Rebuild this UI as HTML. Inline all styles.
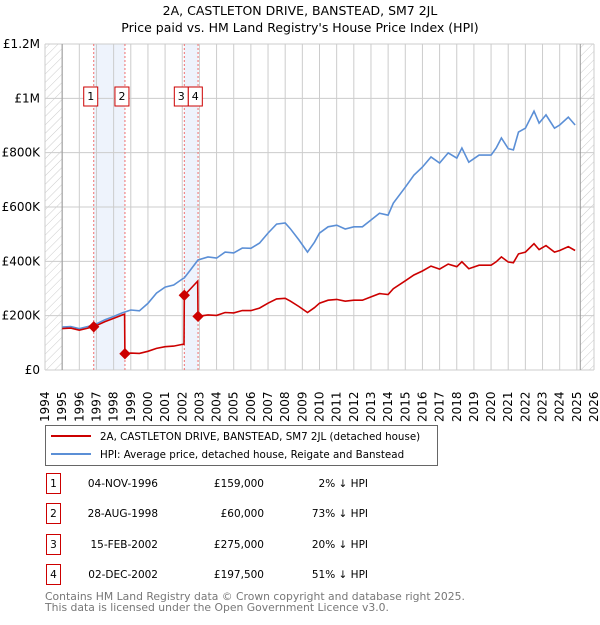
<!DOCTYPE html>
<html><head><meta charset="utf-8"><style>
body{margin:0;background:#fff;font-family:"Liberation Sans","DejaVu Sans",sans-serif;}
svg text{font-family:"DejaVu Sans","Liberation Sans",sans-serif;}
</style></head><body>
<svg id="chart" width="600" height="620" xmlns="http://www.w3.org/2000/svg">
<defs><pattern id="hatch" width="6" height="6" patternUnits="userSpaceOnUse" patternTransform="rotate(45)"><line x1="0" y1="0" x2="0" y2="6" stroke="#ccc" stroke-width="1"/></pattern></defs>
<text x="300" y="15" text-anchor="middle" font-size="12.5">2A, CASTLETON DRIVE, BANSTEAD, SM7 2JL</text>
<text x="300" y="32" text-anchor="middle" font-size="12.5">Price paid vs. HM Land Registry's House Price Index (HPI)</text>
<g id="grid"></g><g id="marks"></g>
<rect x="45.5" y="425.5" width="392" height="40" fill="#fff" stroke="#666"/>
<line x1="51" y1="436" x2="91" y2="436" stroke="#cc0000" stroke-width="2"/>
<text x="100" y="440" font-size="10.3">2A, CASTLETON DRIVE, BANSTEAD, SM7 2JL (detached house)</text>
<line x1="51" y1="454" x2="91" y2="454" stroke="#5b8fd6" stroke-width="2"/>
<text x="100" y="458" font-size="10.3">HPI: Average price, detached house, Reigate and Banstead</text>
<g id="table"></g>
<text x="45" y="600" font-size="10.8" fill="#777">Contains HM Land Registry data © Crown copyright and database right 2025.</text>
<text x="45" y="611" font-size="10.8" fill="#777">This data is licensed under the Open Government Licence v3.0.</text>
</svg>
<script>
const yearTicks=[1994,1995,1996,1997,1998,1999,2000,2001,2002,2003,2004,2005,2006,2007,2008,2009,2010,2011,2012,2013,2014,2015,2016,2017,2018,2019,2020,2021,2022,2023,2024,2025,2026];
const valueTicks=[0,200000,400000,600000,800000,1000000,1200000];
const valueTickLabels=["£0","£200K","£400K","£600K","£800K","£1M","£1.2M"];
const hpiYears=[1995.0,1995.5,1996.0,1996.5,1996.84,1997.5,1998.0,1998.5,1999.0,1999.5,2000.0,2000.5,2001.0,2001.5,2002.0,2002.12,2002.5,2002.92,2003.5,2004.0,2004.5,2005.0,2005.5,2006.0,2006.5,2007.0,2007.5,2008.0,2008.3,2008.8,2009.3,2009.7,2010.0,2010.5,2011.0,2011.5,2012.0,2012.5,2013.0,2013.5,2014.0,2014.3,2015.0,2015.5,2016.0,2016.5,2017.0,2017.5,2018.0,2018.3,2018.7,2019.3,2020.0,2020.3,2020.6,2021.0,2021.3,2021.6,2022.0,2022.5,2022.8,2023.2,2023.7,2024.0,2024.5,2024.9];
const hpiValues=[158000,160000,152000,160000,165000,185000,197000,210000,221000,218000,245000,283000,305000,313000,335000,339000,370000,405000,416000,412000,434000,431000,449000,448000,467000,504000,537000,541000,520000,479000,434000,470000,504000,527000,533000,519000,527000,527000,552000,577000,570000,614000,673000,717000,747000,784000,762000,799000,780000,817000,765000,791000,791000,817000,854000,815000,810000,876000,890000,953000,909000,939000,890000,902000,931000,902000];
const saleYears=[1996.84,1998.66,2002.12,2002.92];
const salePrices=[159000,60000,275000,197500];
const saleLabels=["1","2","3","4"];
const saleDates=["04-NOV-1996","28-AUG-1998","15-FEB-2002","02-DEC-2002"];
const salePriceText=["£159,000","£60,000","£275,000","£197,500"];
const saleHpiText=["2% ↓ HPI","73% ↓ HPI","20% ↓ HPI","51% ↓ HPI"];

const NS="http://www.w3.org/2000/svg";
const X0=45,X1=594,Y0=370,Y1=44,T0=1994,T1=2026,VMAX=1200000;
const xs=t=>X0+(t-T0)/(T1-T0)*(X1-X0);
const ys=v=>Y0-v/VMAX*(Y0-Y1);
function mk(p,tag,a){const e=document.createElementNS(NS,tag);for(const k in a)e.setAttribute(k,a[k]);p.appendChild(e);return e;}
function hpiAt(t){if(t<=hpiYears[0])return hpiValues[0];for(let i=1;i<hpiYears.length;i++){if(t<=hpiYears[i]){const f=(t-hpiYears[i-1])/(hpiYears[i]-hpiYears[i-1]);return hpiValues[i-1]+f*(hpiValues[i]-hpiValues[i-1]);}}return hpiValues[hpiValues.length-1];}
const g=document.getElementById('grid'),m=document.getElementById('marks'),tb=document.getElementById('table');
let e=mk(g,'rect',{x:X0,y:Y1,width:xs(1995)-X0,height:Y0-Y1,fill:'url(#hatch)'});

e=mk(g,'rect',{x:xs(2025.2),y:Y1,width:X1-xs(2025.2),height:Y0-Y1,fill:'url(#hatch)'});

for(let i=0;i<4;i+=2){e=mk(g,'rect',{x:xs(saleYears[i]),y:Y1,width:xs(saleYears[i+1])-xs(saleYears[i]),height:Y0-Y1,fill:'#eef3fc'});
}
yearTicks.forEach(y=>{const x=xs(y);e=mk(g,'line',{x1:x,y1:Y1,x2:x,y2:Y0,stroke:'#ccc'});

e=mk(g,'text',{x:0,y:0,transform:`translate(${x+4},${Y0+52}) rotate(-90)`,'font-size':12});e.textContent=y;
});
valueTicks.forEach((v,i)=>{const y=ys(v);e=mk(g,'line',{x1:X0,y1:y,x2:X1,y2:y,stroke:'#ccc'});

e=mk(g,'text',{x:40,y:y+4,'text-anchor':'end','font-size':12});e.textContent=valueTickLabels[i];
});
e=mk(g,'line',{x1:xs(1995),y1:Y1,x2:xs(1995),y2:Y0,stroke:'#999'});
e=mk(g,'line',{x1:xs(2025.2),y1:Y1,x2:xs(2025.2),y2:Y0,stroke:'#999'});
saleYears.forEach(t=>{e=mk(g,'line',{x1:xs(t),y1:Y1,x2:xs(t),y2:Y0,stroke:'#f07070','stroke-dasharray':'2,2'});
});
let d=hpiYears.map((t,i)=>(i?'L':'M')+xs(t).toFixed(1)+','+ys(hpiValues[i]).toFixed(1)).join('');
e=mk(m,'path',{d:d,fill:'none',stroke:'#5b8fd6','stroke-width':1.6});

let pts=[];
function seg(a,b,k){const base=hpiAt(saleYears[k]);let ts=[a,...hpiYears.filter(t=>t>a&&t<b),b];ts.forEach(t=>pts.push([t,salePrices[k]*hpiAt(t)/base]));}
seg(1995,saleYears[1]-0.02,0);
for(let k=1;k<4;k++)seg(saleYears[k],k<3?saleYears[k+1]-0.02:2024.9,k);
d=pts.map((p,i)=>(i?'L':'M')+xs(p[0]).toFixed(1)+','+ys(p[1]).toFixed(1)).join('');
e=mk(m,'path',{d:d,fill:'none',stroke:'#cc0000','stroke-width':1.6});

let prevRight=-1;
saleYears.forEach((t,i)=>{const x=xs(t),y=ys(salePrices[i]);
e=mk(m,'rect',{x:x-4,y:y-4,width:8,height:8,fill:'#cc0000',transform:`rotate(45 ${x} ${y})`});

let bx=x-10;if(bx<prevRight)bx=prevRight;prevRight=bx+14;
e=mk(m,'rect',{x:bx,y:87,width:14,height:19,fill:'#fff',stroke:'#cc0000'});

e=mk(m,'text',{x:bx+7,y:100,'text-anchor':'middle','font-size':11});e.textContent=saleLabels[i];

const ry=[483,513,544,574][i];
e=mk(tb,'rect',{x:46.5,y:ry-9.5,width:14,height:20,fill:'#fff',stroke:'#cc0000'});

e=mk(tb,'text',{x:53.5,y:ry+4,'text-anchor':'middle','font-size':10.5});e.textContent=saleLabels[i];
e=mk(tb,'text',{x:158,y:ry+4,'text-anchor':'end','font-size':10.5});e.textContent=saleDates[i];

e=mk(tb,'text',{x:264,y:ry+4,'text-anchor':'end','font-size':10.5});e.textContent=salePriceText[i];

e=mk(tb,'text',{x:368,y:ry+4,'text-anchor':'end','font-size':10.5});e.textContent=saleHpiText[i];
});
</script>
</body></html>
